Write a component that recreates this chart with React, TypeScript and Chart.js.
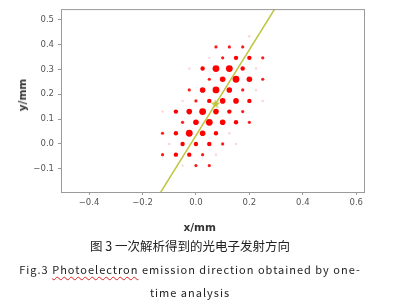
import React, { useEffect, useRef } from "react";
import { Chart, registerables } from "chart.js";

Chart.register(...registerables);

// Axis ranges and ticks
const xRange = [-0.505, 0.629];
const yRange = [-0.193, 0.542];
const xTicks = [-0.4, -0.2, 0.0, 0.2, 0.4, 0.6];
const yTicks = [-0.1, 0.0, 0.1, 0.2, 0.3, 0.4, 0.5];

// Hexagonal lattice of detected spots: row heights, x positions, intensity level (0 faint .. 4 strongest)
const rowY = [0.433, 0.39, 0.346, 0.303, 0.26, 0.217, 0.173, 0.13, 0.087, 0.043, 0.0, -0.043, -0.087];
const rowX = [
  [0.2],
  [0.075, 0.125, 0.175],
  [0.05, 0.1, 0.15, 0.2, 0.25],
  [-0.025, 0.025, 0.075, 0.125, 0.175, 0.225],
  [0.05, 0.1, 0.15, 0.2, 0.25],
  [-0.025, 0.025, 0.075, 0.125, 0.175, 0.225],
  [-0.05, 0.0, 0.05, 0.1, 0.15, 0.2, 0.25],
  [-0.125, -0.075, -0.025, 0.025, 0.075, 0.125, 0.175],
  [-0.05, 0.0, 0.05, 0.1, 0.15, 0.2],
  [-0.125, -0.075, -0.025, 0.025, 0.075, 0.125],
  [-0.1, -0.05, 0.0, 0.05, 0.1, 0.15],
  [-0.125, -0.075, -0.025, 0.025, 0.075],
  [-0.05, 0.0, 0.05],
];
const rowLevel = [
  [0],
  [1, 1, 1],
  [0, 1, 2, 2, 1],
  [0, 2, 4, 4, 2, 0],
  [1, 3, 4, 3, 1],
  [1, 3, 4, 3, 1, 0],
  [0, 1, 2, 3, 3, 2, 0],
  [0, 2, 3, 4, 3, 2, 1],
  [1, 3, 4, 3, 2, 1],
  [1, 2, 4, 3, 2, 0],
  [0, 2, 2, 2, 1, 0],
  [1, 2, 2, 1, 0],
  [0, 1, 1],
];

// Fitted emission direction line and its centre
const fitLineX = [-0.15, 0.32];
const fitLineY = [-0.225, 0.586];
const centerX = [0.073];
const centerY = [0.162];

const levelRadius = [1.2, 1.6, 2.2, 2.8, 3.4];
const levelColor = ["rgba(255,0,0,0.18)", "rgba(255,0,0,0.9)", "#ff0000", "#ff0000", "#ff0000"];
const lineColor = "#bec43c";
const axisColor = "#9a9a9a";
const tickColor = "#555";

function fmt(v: number) {
  const s = Math.abs(v).toFixed(1);
  return v < -1e-9 ? "\u2212" + s : s;
}

function makeStar(size: number, color: string) {
  const c = document.createElement("canvas");
  c.width = size;
  c.height = size;
  const g = c.getContext("2d")!;
  const cx = size / 2;
  const cy = size / 2 + 0.5;
  const R = size / 2;
  const r = R * 0.42;
  g.beginPath();
  for (let i = 0; i < 10; i++) {
    const a = -Math.PI / 2 + (i * Math.PI) / 5;
    const rad = i % 2 === 0 ? R : r;
    g.lineTo(cx + rad * Math.cos(a), cy + rad * Math.sin(a));
  }
  g.closePath();
  g.fillStyle = color;
  g.fill();
  return c;
}

const framePlugin = {
  id: "frame",
  afterDatasetsDraw(chart: any) {
    const { ctx, chartArea: a } = chart;
    ctx.save();
    ctx.strokeStyle = axisColor;
    ctx.lineWidth = 1;
    ctx.strokeRect(a.left + 0.5, a.top + 0.5, a.right - a.left, a.bottom - a.top);
    ctx.restore();
  },
};

export default function App() {
  const ref = useRef<HTMLCanvasElement>(null);

  useEffect(() => {
    const points: any[] = [];
    const colors: string[] = [];
    rowY.forEach((y, i) =>
      rowX[i].forEach((x, j) => {
        const lv = rowLevel[i][j];
        points.push({ x, y, r: levelRadius[lv] });
        colors.push(levelColor[lv]);
      })
    );
    const star = makeStar(10, lineColor);
    const tickFont = { family: "DejaVu Sans", size: 8.5 };
    const chart = new Chart(ref.current!, {
      type: "bubble",
      data: {
        datasets: [
          {
            type: "scatter",
            data: centerX.map((x, i) => ({ x, y: centerY[i] })),
            pointStyle: star as any,
            pointRadius: 5,
          } as any,
          {
            type: "line",
            data: fitLineX.map((x, i) => ({ x, y: fitLineY[i] })),
            borderColor: lineColor,
            borderWidth: 1.5,
            pointRadius: 0,
            clip: 0,
          } as any,
          {
            type: "bubble",
            data: points,
            backgroundColor: colors,
            borderWidth: 0,
          },
        ],
      },
      options: {
        animation: false,
        responsive: false,
        events: [],
        layout: { padding: { left: 6, right: 30, top: 6, bottom: 0 } },
        plugins: { legend: { display: false }, tooltip: { enabled: false } },
        scales: {
          x: {
            type: "linear",
            position: "bottom",
            min: xRange[0],
            max: xRange[1],
            afterBuildTicks: (s: any) => {
              s.ticks = xTicks.map((v) => ({ value: v }));
            },
            afterFit: (s: any) => {
              s.height = 48;
            },
            grid: { display: true, drawOnChartArea: false, drawTicks: true, tickLength: 3, color: axisColor },
            border: { display: false },
            ticks: { callback: (v: any) => fmt(Number(v)), font: tickFont, color: tickColor, padding: 3, maxRotation: 0, autoSkip: false },
          },
          y: {
            type: "linear",
            min: yRange[0],
            max: yRange[1],
            afterBuildTicks: (s: any) => {
              s.ticks = yTicks.map((v) => ({ value: v }));
            },
            afterFit: (s: any) => {
              s.width = 55;
            },
            grid: { display: true, drawOnChartArea: false, drawTicks: true, tickLength: 3, color: axisColor },
            border: { display: false },
            ticks: { callback: (v: any) => fmt(Number(v)), font: tickFont, color: tickColor, padding: 4, autoSkip: false },
          },
        },
      },
      plugins: [framePlugin],
    });
    return () => chart.destroy();
  }, []);

  const base: React.CSSProperties = { position: "absolute", whiteSpace: "nowrap" };
  const caption: React.CSSProperties = {
    ...base,
    left: 0,
    width: 380,
    lineHeight: "16px",
    textAlign: "center",
    font: "11px 'Noto Sans CJK SC'",
    letterSpacing: "1px",
    color: "#222",
  };
  return (
    <div style={{ position: "absolute", left: 0, top: 0, width: 394, height: 305, background: "#fff", overflow: "hidden" }}>
      <canvas ref={ref} width={394} height={240} style={{ position: "absolute", left: 0, top: 0, width: 394, height: 240 }} />
      <div
        style={{
          ...base,
          left: 21.7,
          top: 95,
          transform: "translate(-50%,-50%) rotate(-90deg)",
          font: "bold 10.5px 'DejaVu Sans'",
          color: "#333",
        }}
      >
        y/mm
      </div>
      <div style={{ ...base, left: 199.7, top: 226.7, transform: "translate(-50%,-50%)", font: "bold 10.5px 'DejaVu Sans'", color: "#333" }}>
        x/mm
      </div>
      <div
        style={{
          ...base,
          left: 0,
          width: 380,
          top: 236,
          lineHeight: "16px",
          textAlign: "center",
          font: "12.5px 'Noto Sans CJK SC'",
          color: "#222",
        }}
      >
        图 3 一次解析得到的光电子发射方向
      </div>
      <div style={{ ...caption, top: 261 }}>
        Fig.3{" "}
        <span style={{ textDecoration: "underline wavy #e02020", textDecorationThickness: "1px", textUnderlineOffset: "2px" }}>
          Photoelectron
        </span>{" "}
        emission direction obtained by one-
      </div>
      <div style={{ ...caption, top: 284 }}>time analysis</div>
    </div>
  );
}
